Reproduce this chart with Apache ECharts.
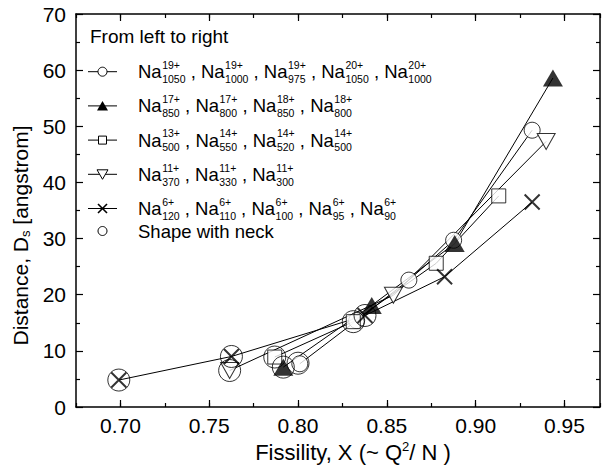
<!DOCTYPE html>
<html>
<head>
<meta charset="utf-8">
<script src="https://cdn.jsdelivr.net/npm/echarts@6.0.0/dist/echarts.min.js"></script>
<style>
html, body { margin: 0; padding: 0; background: #fff; }
#main { width: 604px; height: 472px; }
</style>
</head>
<body>
<div id="main"></div>
<script>
// tick labels
const xMajorTicks = [0.70, 0.75, 0.80, 0.85, 0.90, 0.95];

// axis titles
const xTitle = 'Fissility, X (~ Q{sup|2}/ N )';
const yTitle = 'Distance, D{sub|s} [angstrom]';

// Na 19+, 20+ (open circles)
const circleX = [0.801, 0.833, 0.8624, 0.8876, 0.9318];
const circleY = [7.7, 15.4, 22.6, 29.7, 49.3];
// Na 17+, 18+ (filled triangles)
const triUpX = [0.7917, 0.8415, 0.8882, 0.9435];
const triUpY = [7.1, 18.1, 29.1, 58.6];
// Na 13+, 14+ (open squares)
const squareX = [0.7869, 0.8311, 0.8778, 0.9130];
const squareY = [8.9, 15.2, 25.6, 37.6];
// Na 11+ (open down triangles)
const triDownX = [0.7615, 0.8537, 0.9397];
const triDownY = [6.5, 19.9, 47.3];
// Na 6+ (crosses)
const crossX = [0.6991, 0.7625, 0.8377, 0.8825, 0.9318];
const crossY = [4.8, 9.0, 16.3, 23.2, 36.5];
// shape with neck (big open circles)
const neckX = [0.6991, 0.7625, 0.7615, 0.7869, 0.7917, 0.800, 0.8311, 0.8377];
const neckY = [4.8, 9.0, 6.5, 8.9, 7.1, 7.8, 15.2, 16.3];

// legend texts: [charge, size]
const legendHeading = 'From left to right';
const circleIons = [['19+', '1050'], ['19+', '1000'], ['19+', '975'], ['20+', '1050'], ['20+', '1000']];
const triUpIons = [['17+', '850'], ['17+', '800'], ['18+', '850'], ['18+', '800']];
const squareIons = [['13+', '500'], ['14+', '550'], ['14+', '520'], ['14+', '500']];
const triDownIons = [['11+', '370'], ['11+', '330'], ['11+', '300']];
const crossIons = [['6+', '120'], ['6+', '110'], ['6+', '100'], ['6+', '95'], ['6+', '90']];
const neckLabel = 'Shape with neck';

const FONT = '"Liberation Sans", Arial, Helvetica, sans-serif';

function pairs(xs, ys) {
    return xs.map(function (x, i) { return [x, ys[i]]; });
}

let ctx = document.createElement('canvas').getContext('2d');
function textW(s, size) {
    ctx.font = size + 'px ' + FONT;
    return ctx.measureText(s).width;
}

function txt(x, y, s, size) {
    return {
        type: 'text', x: x, y: y, silent: true,
        style: { text: s, fontSize: size, lineHeight: size, fontFamily: FONT, fill: '#000', verticalAlign: 'middle', align: 'left' }
    };
}

function legendSymbol(kind, cx, cy) {
    let st = { fill: '#fff', stroke: '#000', lineWidth: 1 };
    if (kind === 'circle') return [{ type: 'circle', shape: { cx: cx, cy: cy, r: 4.5 }, style: st }];
    if (kind === 'triUp') return [{ type: 'polygon', shape: { points: [[cx - 5.5, cy + 4.5], [cx + 5.5, cy + 4.5], [cx, cy - 5]] }, style: { fill: '#000' } }];
    if (kind === 'square') return [{ type: 'rect', shape: { x: cx - 4, y: cy - 4, width: 8, height: 8 }, style: st }];
    if (kind === 'triDown') return [{ type: 'polygon', shape: { points: [[cx - 5.5, cy - 4.5], [cx + 5.5, cy - 4.5], [cx, cy + 5]] }, style: st }];
    return [
        { type: 'line', shape: { x1: cx - 4.5, y1: cy - 4.5, x2: cx + 4.5, y2: cy + 4.5 }, style: { stroke: '#000', lineWidth: 1.6 } },
        { type: 'line', shape: { x1: cx + 4.5, y1: cy - 4.5, x2: cx - 4.5, y2: cy + 4.5 }, style: { stroke: '#000', lineWidth: 1.6 } }
    ];
}

function buildLegend() {
    let els = [];
    els.push(txt(90, 36.7, legendHeading, 19));
    let rows = [['circle', circleIons], ['triUp', triUpIons], ['square', squareIons], ['triDown', triDownIons], ['cross', crossIons]];
    rows.forEach(function (row, i) {
        let y = 71.7 + i * 34.2;
        els.push({ type: 'line', shape: { x1: 88, y1: y, x2: 117, y2: y }, style: { stroke: '#000', lineWidth: 1 } });
        els = els.concat(legendSymbol(row[0], 102.5, y));
        let cx = 138;
        row[1].forEach(function (ion, j) {
            els.push(txt(cx, y, 'Na', 18.5));
            cx += textW('Na', 18.5) + 0.5;
            els.push(txt(cx, y - 6.7, ion[0], 10.5));
            els.push(txt(cx, y + 7.3, ion[1], 10.5));
            cx += Math.max(textW(ion[0], 10.5), textW(ion[1], 10.5));
            if (j < row[1].length - 1) {
                els.push(txt(cx, y, ' , ', 18.5));
                cx += textW(' , ', 18.5);
            }
        });
    });
    let ny = 231;
    els.push({ type: 'circle', shape: { cx: 102.5, cy: ny, r: 4.5 }, style: { fill: '#fff', stroke: '#000', lineWidth: 1 } });
    els.push(txt(138, ny, neckLabel, 18.5));
    return els;
}

function buildTitles() {
    return [
        {
            type: 'text', x: 353, y: 452, silent: true,
            style: {
                text: xTitle, fontSize: 22, lineHeight: 24, fontFamily: FONT, fill: '#000',
                align: 'center', verticalAlign: 'middle',
                rich: { sup: { fontSize: 13, fontFamily: FONT, fill: '#000', verticalAlign: 'top', lineHeight: 13 } }
            }
        },
        {
            type: 'text', x: 20, y: 235.5, rotation: Math.PI / 2, silent: true,
            style: {
                text: yTitle, fontSize: 21, lineHeight: 24, fontFamily: FONT, fill: '#000',
                align: 'center', verticalAlign: 'middle',
                rich: { sub: { fontSize: 13, fontFamily: FONT, fill: '#000', verticalAlign: 'bottom', lineHeight: 13 } }
            }
        }
    ];
}

window.addEventListener('load', function () {
    let chart = echarts.init(document.getElementById('main'), null, { renderer: 'svg' });

    let axisLine = { show: true, lineStyle: { color: '#000', width: 1.5 } };
    let majorTick = { show: true, inside: true, length: 7, lineStyle: { color: '#000', width: 1.2 } };
    let minorTick = { show: true, inside: true, length: 4, lineStyle: { color: '#000', width: 1.2 } };
    let xMin = 0.675, xMax = 0.97;

    let lineBase = { type: 'line', symbol: 'none', z: 2, lineStyle: { color: '#000', width: 1 }, silent: true };
    let openStyle = { color: '#fff', borderColor: '#000', borderWidth: 1 };

    let option = {
        animation: false,
        backgroundColor: '#fff',
        textStyle: { fontFamily: FONT },
        grid: { left: 76, right: 4, top: 14, bottom: 65 },
        xAxis: [
            {
                type: 'value', position: 'bottom', min: xMin, max: xMax,
                axisLine: axisLine,
                axisTick: Object.assign({ customValues: xMajorTicks }, majorTick),
                axisLabel: {
                    customValues: xMajorTicks, color: '#000', fontSize: 21, fontFamily: FONT, margin: 8,
                    formatter: function (v) { return v.toFixed(2); }
                },
                splitLine: { show: false }
            },
            {
                type: 'value', position: 'bottom', min: xMin, max: xMax, interval: 0.025,
                axisLine: { show: false }, axisTick: minorTick, axisLabel: { show: false }, splitLine: { show: false }
            },
            {
                type: 'value', position: 'top', min: xMin, max: xMax,
                axisLine: axisLine,
                axisTick: Object.assign({ customValues: xMajorTicks }, majorTick),
                axisLabel: { show: false }, splitLine: { show: false }
            },
            {
                type: 'value', position: 'top', min: xMin, max: xMax, interval: 0.025,
                axisLine: { show: false }, axisTick: minorTick, axisLabel: { show: false }, splitLine: { show: false }
            }
        ],
        yAxis: [
            {
                type: 'value', position: 'left', min: 0, max: 70, interval: 10,
                axisLine: axisLine, axisTick: majorTick,
                minorTick: { show: true, splitNumber: 2, length: 4, lineStyle: { color: '#000', width: 1.2 } },
                axisLabel: { color: '#000', fontSize: 21, fontFamily: FONT, margin: 10 },
                splitLine: { show: false }
            },
            {
                type: 'value', position: 'right', min: 0, max: 70, interval: 10,
                axisLine: axisLine, axisTick: majorTick,
                minorTick: { show: true, splitNumber: 2, length: 4, lineStyle: { color: '#000', width: 1.2 } },
                axisLabel: { show: false }, splitLine: { show: false }
            }
        ],
        graphic: buildLegend().concat(buildTitles()),
        series: [
            Object.assign({ data: pairs(circleX, circleY) }, lineBase),
            Object.assign({ data: pairs(triUpX, triUpY) }, lineBase),
            Object.assign({ data: pairs(squareX, squareY) }, lineBase),
            Object.assign({ data: pairs(triDownX, triDownY) }, lineBase),
            Object.assign({ data: pairs(crossX, crossY) }, lineBase),
            {
                type: 'scatter', z: 3, silent: true, data: pairs(circleX, circleY),
                symbol: 'circle', symbolSize: 16, itemStyle: openStyle
            },
            {
                type: 'scatter', z: 3, silent: true, data: pairs(squareX, squareY),
                symbol: 'rect', symbolSize: 14, itemStyle: openStyle
            },
            {
                type: 'scatter', z: 3, silent: true, data: pairs(triDownX, triDownY),
                symbol: 'triangle', symbolSize: [18, 16], symbolRotate: 180, itemStyle: openStyle
            },
            {
                type: 'scatter', z: 3, silent: true, data: pairs(triUpX, triUpY),
                symbol: 'triangle', symbolSize: [20, 17], itemStyle: { color: '#000' }
            },
            {
                type: 'scatter', z: 3, silent: true, data: pairs(crossX, crossY),
                symbol: 'path://M0,0L10,10M10,0L0,10', symbolSize: 15,
                itemStyle: { color: 'rgba(0,0,0,0)', borderColor: '#000', borderWidth: 2 }
            },
            {
                type: 'scatter', z: 4, silent: true, data: pairs(neckX, neckY),
                symbol: 'circle', symbolSize: 22,
                itemStyle: { color: 'rgba(0,0,0,0)', borderColor: '#000', borderWidth: 1 }
            }
        ]
    };
    chart.setOption(option);
}, false);
</script>
</body>
</html>
